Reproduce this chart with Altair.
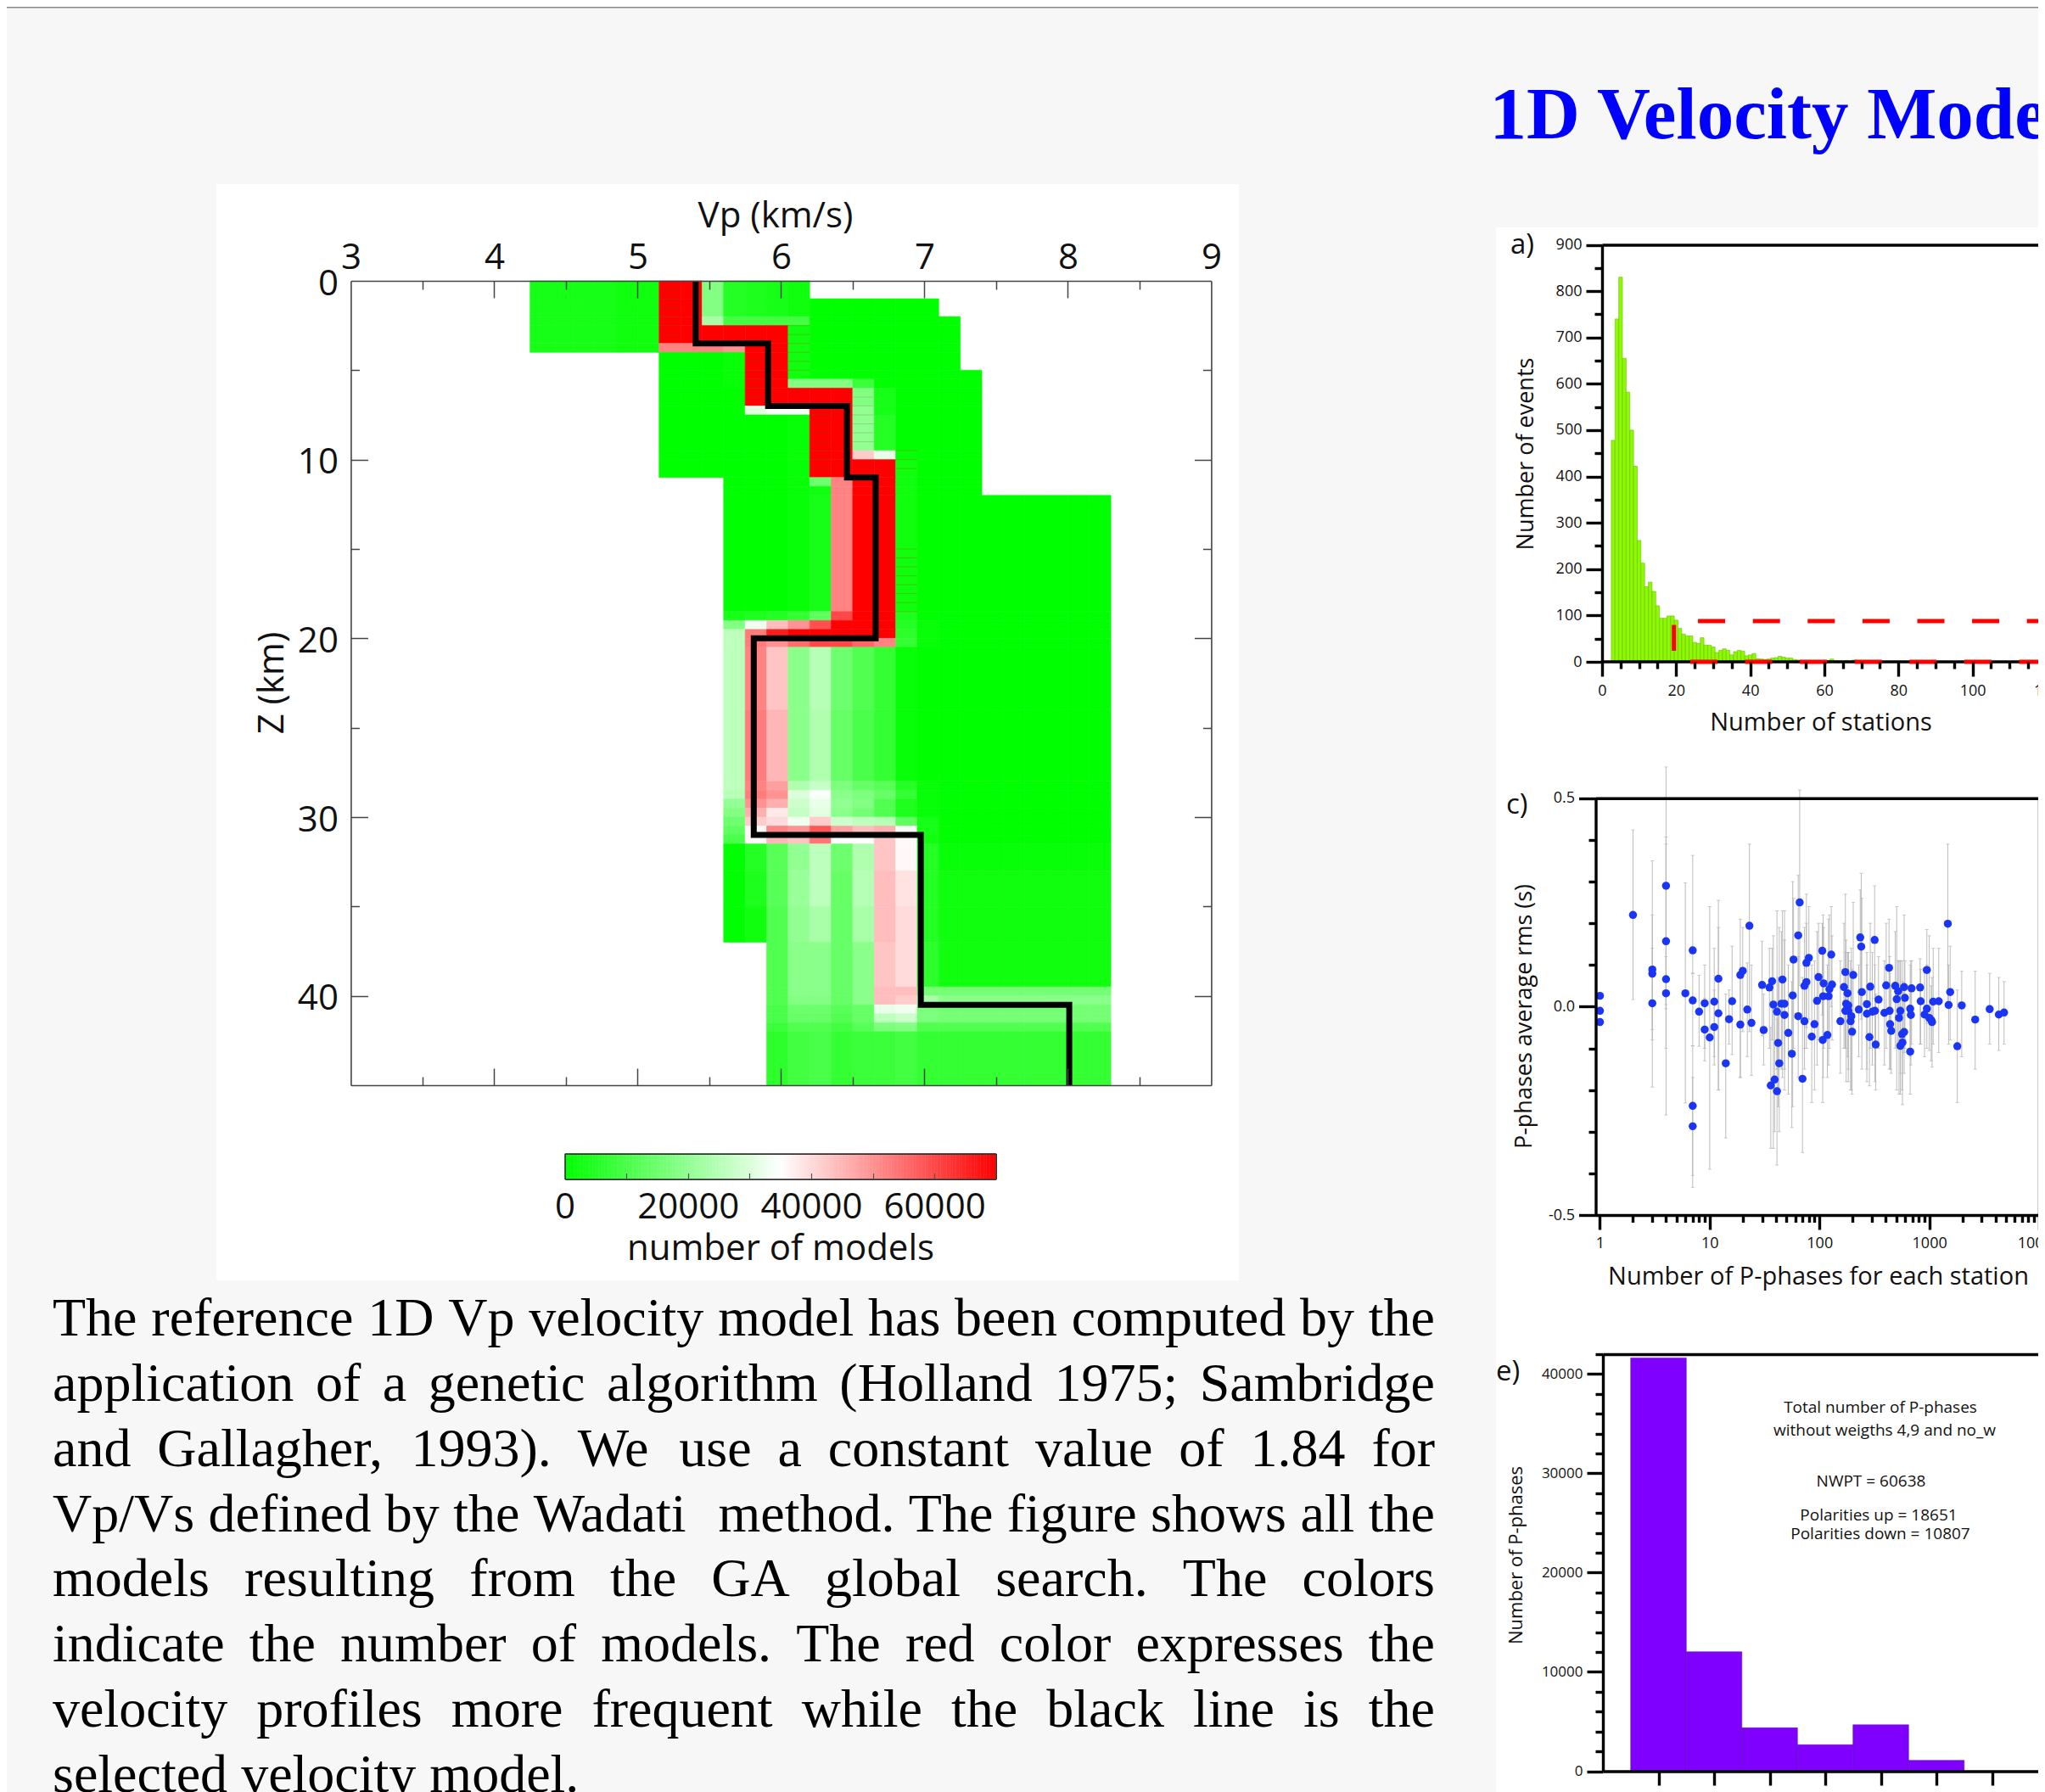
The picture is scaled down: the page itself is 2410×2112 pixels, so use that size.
import altair as alt
import pandas as pd

W, H = 2394, 2104
SANS = "Open Sans"
SERIF = "Liberation Serif"

# ---------- Vp model histogram ----------
model_bands = [
    (0, 1, 4.25, 6.2, [3000, 3000, 3000, 3000, 2000, 2000, 70000, 70000, 18000, 5000, 4000, 3000, 2000], 0),
    (1, 2, 4.25, 7.1, [3000, 3000, 3000, 3000, 2000, 2000, 70000, 70000, 18000, 5000, 4000, 3000, 2000], 0),
    (2, 2.5, 4.25, 7.25, [3000, 3000, 3000, 3000, 2000, 2000, 70000, 70000, 23000, 9000, 9000, 9000, 9000], 0),
    (2.5, 3.5, 4.25, 7.25, [3000, 3000, 3000, 3000, 2000, 2000, 70000, 70000, 70000, 70000, 70000, 70000, 2000], 0),
    (3.5, 4, 4.25, 7.25, [3000, 3000, 3000, 3000, 2000, 2000, 52000, 52000, 52000, 50000, 70000, 70000, 2000], 0),
    (4, 5, 5.15, 7.25, [0, 0, 0, 1000, 70000, 70000, 2000], 0),
    (5, 5.5, 5.15, 7.4, [0, 0, 0, 1000, 70000, 70000, 2000], 0),
    (5.5, 6, 5.15, 7.4, [0, 0, 0, 1000, 70000, 70000, 18000, 18000, 18000, 8000], 0),
    (6, 7, 5.15, 7.4, [0, 0, 0, 0, 70000, 70000, 70000, 70000, 70000, 18000, 3000], 0),
    (7, 7.5, 5.15, 7.4, [0, 0, 0, 0, 31000, 34000, 34000, 70000, 70000, 20000, 3000], 0),
    (7.5, 9.5, 5.15, 7.4, [0, 0, 0, 0, 0, 0, 1000, 70000, 70000, 20000, 5000], 0),
    (9.5, 10, 5.15, 7.4, [0, 0, 0, 0, 0, 0, 1000, 70000, 70000, 42000, 32000, 1000], 0),
    (10, 11, 5.15, 7.4, [0, 0, 0, 0, 0, 0, 1000, 70000, 70000, 70000, 70000, 2000], 0),
    (11, 11.5, 5.6, 7.4, [0, 0, 0, 1000, 15000, 52000, 70000, 70000, 2000], 0),
    (11.5, 12, 5.6, 7.4, [0, 0, 0, 1000, 2000, 52000, 70000, 70000, 2000], 0),
    (12, 18.5, 5.6, 8.3, [0, 0, 0, 1000, 3000, 52000, 70000, 70000, 2000], 0),
    (18.5, 19, 5.6, 8.3, [3000, 4000, 5000, 7000, 13000, 60000, 70000, 70000, 4000], 0),
    (19, 19.5, 5.6, 8.3, [18000, 33000, 44000, 50000, 59000, 70000, 70000, 70000, 5000, 1000], 0),
    (19.5, 20, 5.6, 8.3, [26000, 53000, 66000, 70000, 70000, 70000, 70000, 70000, 6000, 1000], 0),
    (20, 20.5, 5.6, 8.3, [26000, 53000, 50000, 55000, 60000, 60000, 56000, 52000, 7000, 1000], 0),
    (20.5, 24, 5.6, 8.3, [26000, 52000, 43000, 19000, 25000, 15000, 11000, 7000, 1000], 0),
    (24, 28, 5.6, 8.3, [26000, 53000, 45000, 19000, 24000, 14000, 10000, 7000, 1000], 0),
    (28, 28.5, 5.6, 8.3, [26000, 52000, 48000, 24000, 27000, 17000, 14000, 12000, 5000, 1000], 0),
    (28.5, 29, 5.6, 8.3, [25000, 53000, 50000, 30000, 34000, 19000, 17000, 14000, 7000, 1000], 0),
    (29, 29.5, 5.6, 8.3, [20000, 50000, 46000, 28000, 32000, 20000, 18000, 11000, 4000, 1000], 0),
    (29.5, 30, 5.6, 8.3, [18000, 46000, 38000, 27000, 31000, 19000, 16000, 11000, 4000, 1000], 0),
    (30, 30.5, 5.6, 8.3, [15000, 42000, 40000, 33000, 42000, 28000, 26000, 25000, 13000, 3000], 0),
    (30.5, 31, 5.6, 8.3, [13000, 36000, 52000, 50000, 58000, 48000, 44000, 46000, 34000, 3000], 0),
    (31, 31.5, 5.6, 8.3, [10000, 36000, 45000, 43000, 54000, 35000, 35000, 43000, 36000, 2000], 0),
    (31.5, 33, 5.6, 8.3, [0, 5000, 12000, 20000, 26000, 15000, 24000, 43000, 36000, 5000, 1000], 1000),
    (33, 35, 5.6, 8.3, [0, 4000, 12000, 21000, 26000, 14000, 25000, 44000, 39000, 5000, 2000], 2000),
    (35, 37, 5.6, 8.3, [0, 2000, 11000, 20000, 23000, 14000, 23000, 44000, 40000, 5000, 2000], 2000),
    (37, 39.5, 5.9, 8.3, [11000, 19000, 19000, 14000, 19000, 43000, 40000, 6000], 2000),
    (39.5, 40, 5.9, 8.3, [11000, 19000, 19000, 14000, 19000, 44000, 44000, 16000], 16000),
    (40, 40.5, 5.9, 8.3, [11000, 18000, 18000, 14000, 19000, 44000, 42000, 23000], 19000),
    (40.5, 41, 5.9, 8.3, [10000, 15000, 15000, 12000, 14000, 32000, 33000, 17000], 16000),
    (41, 41.5, 5.9, 8.3, [10000, 14000, 14000, 11000, 14000, 26000, 28000, 17000], 16000),
    (41.5, 42, 5.9, 8.3, [8000, 11000, 11000, 9000, 12000, 17000, 18000, 11000], 11000),
    (42, 45, 5.9, 8.3, [6000, 9000, 10000, 7000, 8000, 8000, 9000, 7000], 7000),
]
VP_STEP = 0.15
COLORBAR_STEP = 500
COLORBAR_MAX = 70000

best_vp = [5.405, 5.405, 5.91, 5.91, 6.46, 6.46, 6.66, 6.66, 5.81, 5.81, 6.975, 6.975, 8.01, 8.01]
best_z = [0, 3.5, 3.5, 7, 7, 11, 11, 20, 20, 31, 31, 40.5, 40.5, 45]

hatch_groups = [
    (5.15, 5.3, [0.5, 1, 1.5, 2, 2.5, 3], "#b03000"),
    (6.05, 6.2, [2.5, 3, 3.5, 4, 4.5, 5], "#60a000"),
    (5.75, 5.9, [4.5, 5, 5.5, 6, 6.5], "#b03000"),
    (6.2, 6.35, [7.5, 8, 8.5, 9, 9.5, 10, 10.5], "#b03000"),
    (6.8, 6.95, [9.5, 10, 10.5, 15, 15.5, 16, 16.5, 17, 17.5, 18, 18.5], "#60a000"),
    (6.5, 6.65, [6.5, 7, 7.5, 8, 8.5, 9], "#90b070"),
]

# ---------- panel a ----------
stations_bins = list(range(3, 71))
events_count = [478, 740, 830, 655, 582, 500, 422, 262, 213, 162, 172, 152, 121, 94, 94, 99, 99, 90,
                72, 60, 56, 56, 42, 40, 52, 36, 36, 32, 20, 25, 28, 25, 15, 22, 25, 23, 13, 15, 18,
                7, 6, 5, 6, 8, 9, 12, 10, 8, 8, 5, 4, 3, 3, 2, 2, 2, 2, 3, 3, 6, 3, 2, 2, 3, 2, 4, 1, 2]

# ---------- panel c ----------
phases_n = [1, 1, 1, 2, 3, 3, 3, 4, 4, 4,
            4, 6, 7, 7, 7, 7, 8, 9, 9, 10,
            11, 11, 12, 12, 14, 15, 16, 19, 19, 20,
            22, 23, 24, 30, 31, 35, 37, 38, 36, 39,
            41, 41, 42, 43, 46, 45, 48, 48, 52, 56,
            57, 58, 64, 64, 66, 70, 73, 73, 76, 76,
            80, 85, 90, 95, 98, 106, 107, 109, 108, 118,
            121, 123, 128, 130, 155, 167, 172, 175, 172, 180,
            183, 183, 192, 195, 198, 203, 228, 235, 240, 243,
            270, 270, 285, 290, 303, 320, 318, 325, 345, 390,
            405, 430, 435, 440, 450, 490, 505, 520, 530, 545,
            545, 570, 565, 590, 600, 590, 670, 680, 670, 690,
            825, 835, 905, 950, 950, 1000, 1040, 1060, 1085, 1220,
            1475, 1500, 1550, 1800, 1975, 2620, 3550, 4300, 4800]
phases_rms = [.026, -.01, -.037, .22, .089, .079, .008, .29, .157, .066,
              .032, .032, .135, .015, -.238, -.287, -.012, .008, -.055, -.074,
              .012, -.049, .067, -.016, -.136, -.03, .013, .076, -.043, .086,
              -.007, .194, -.039, .052, -.056, .046, .061, .005, -.189, -.175,
              -.203, -.012, -.087, -.136, .065, .007, .007, -.02, -.063, -.113,
              .027, .113, .171, -.023, .25, -.173, .05, -.035, .105, .059,
              .117, -.072, -.042, .014, .071, .134, -.08, .056, .025, -.068,
              .025, .042, .125, .053, -.035, .047, .083, .007, -.01, .032,
              .003, -.01, -.035, -.023, -.06, .076, -.007, .166, .144, .035,
              .006, -.017, -.073, .048, -.012, -.01, .16, -.091, .017, -.015,
              .051, .093, -.01, -.042, -.058, .05, .018, .037, -.027, -.01,
              -.094, -.086, -.066, .047, .021, -.061, -.005, -.02, -.108, .044,
              .046, .013, -.019, .088, -.005, -.027, -.032, -.037, .012, .013,
              .199, .004, .035, -.095, .003, -.031, -.006, -.019, -.014]
phases_lo = [.026, -.01, -.037, .017, -.08, -.193, -.055, .005, -.1, -.26,
             -.005, -.231, .08, -.094, -.405, -.434, -.095, -.1, -.13, -.39,
             -.12, -.14, -.2, -.2, -.315, -.09, -.115, -.17, -.17, -.06,
             -.12, -.06, -.165, -.07, -.14, -.1, -.08, -.34, -.34, -.3,
             -.38, -.15, -.24, -.3, -.17, -.15, -.15, -.2, -.21, -.29,
             -.24, -.1, -.02, -.17, .05, -.35, -.1, -.15, -.05, -.1,
             -.03, -.23, -.2, -.14, -.08, -.02, -.23, -.1, -.17, -.17,
             -.14, -.1, 0, -.08, -.16, -.1, -.1, -.18, -.1, -.12,
             -.15, -.18, -.2, -.2, -.21, -.07, -.12, 0, -.03, -.15,
             -.18, -.15, -.19, -.1, -.14, -.18, .02, -.2, -.1, -.14,
             -.1, -.06, -.15, -.15, -.16, -.1, -.2, -.1, -.21, -.16,
             -.21, -.235, -.2, -.11, -.1, -.16, -.12, -.14, -.21, -.09,
             -.09, -.09, -.12, -.04, -.1, -.105, -.13, -.145, -.09, -.11,
             0, -.09, -.08, -.23, -.12, -.15, -.09, -.105, -.09]
phases_hi = [.026, -.01, -.037, .424, .35, .22, .14, .575, .407, .39,
             .12, .297, .363, .08, -.17, -.094, .075, .1, .02, .24,
             .14, .04, .255, .19, .03, .04, .145, .21, .08, .19,
             .105, .39, .1, .157, .03, .14, .14, .17, -.05, -.02,
             -.03, .23, .07, .19, .23, .18, .23, .16, .1, .06,
             .3, .26, .315, .12, .52, .07, .19, .1, .27, .2,
             .24, .1, .11, .18, .2, .2, .06, .19, .22, .1,
             .21, .22, .24, .17, .11, .2, .27, .16, .13, .13,
             .13, .13, .11, .14, .09, .25, .1, .28, .32, .26,
             .13, .1, .04, .2, .13, .1, .29, .03, .12, .11,
             .2, .21, .12, .08, .05, .18, .24, .11, .11, .11,
             .11, .06, .11, .22, .11, .04, .1, .11, .03, .11,
             .115, .09, .09, .185, .1, .17, .05, .07, .14, .14,
             .39, .1, .145, .04, .085, .085, .08, .07, .06]

# ---------- panel e ----------
weight_class = [0, 1, 2, 3, 4, 5]
weight_counts = [41625, 12020, 4370, 2660, 4670, 1090]

# ---------- text ----------
paragraph_lines = [
    "The reference 1D Vp velocity model has been computed by the",
    "application of a genetic algorithm (Holland 1975; Sambridge",
    "and Gallagher, 1993). We use a constant value of 1.84 for",
    "Vp/Vs defined by the Wadati  method. The figure shows all the",
    "models resulting from the GA global search. The colors",
    "indicate the number of models. The red color expresses the",
    "velocity profiles more frequent while the black line is the",
    "selected velocity model.",
]
TIMES = dict(a=444, b=500, c=444, d=500, e=444, f=333, g=500, h=500, i=278, j=278, k=500, l=278, m=778,
             n=500, o=500, p=500, q=500, r=333, s=389, t=278, u=500, v=500, w=722, x=500, y=500, z=444,
             A=722, B=667, C=667, D=722, E=611, F=556, G=722, H=722, I=333, J=389, K=722, L=611, M=889,
             N=722, O=722, P=556, Q=722, R=667, S=556, T=611, U=722, V=722, W=944, X=722, Y=722, Z=611)
TIMES.update({c: 500 for c in "0123456789"})
TIMES.update({".": 250, ",": 250, ";": 278, "(": 333, ")": 333, "/": 278})
PARA_SIZE, PARA_WIDTH = 64, 1629


def word_width(word):
    return sum(TIMES[c] for c in word) * PARA_SIZE / 1000


def paragraph_words():
    rows = []
    for number, line in enumerate(paragraph_lines, 1):
        words = line.replace("  ", " ").split(" ")
        gaps = line.count(" ")
        space = 0.25 * PARA_SIZE
        natural = sum(word_width(w) for w in words) + gaps * space
        if number < len(paragraph_lines):
            space += (PARA_WIDTH - natural) / gaps
        pos = 0.0
        for i, w in enumerate(words):
            rows.append({"line": number, "pos": pos, "word": w})
            pos += word_width(w) + space * (2 if w == "Wadati" else 1)
    return pd.DataFrame(rows)


# ---------- helpers ----------
def px(v):
    return v - 8


def rng(a, b):
    return [px(a), px(b)]


def text(s, x, y, size, font=SANS, color="#111", angle=0, align="left", weight="normal"):
    return alt.Chart(pd.DataFrame({"t": [s]})).mark_text(
        font=font, fontSize=size, color=color, angle=angle, align=align,
        baseline="alphabetic", fontWeight=weight
    ).encode(x=alt.value(px(x)), y=alt.value(px(y)), text="t:N")


def panel(x0, y0, x1, y1, color="#ffffff"):
    return alt.Chart(pd.DataFrame({"a": [0]})).mark_rect(color=color, strokeWidth=0).encode(
        x=alt.value(px(x0)), x2=alt.value(px(x1)), y=alt.value(px(y0)), y2=alt.value(px(y1)))


def axis(channel, domain, range_, orient, pos, values=None, tick=0, width=1.5, color="#000",
         labels=False, line=False, size=18, pad=4, fmt="d", stype="linear", labelcolor="#111", expr=None, shift=0):
    p = pos - 8
    offset = {"bottom": p - H, "top": -p, "left": -p, "right": p - W}[orient]
    cfg = dict(orient=orient, offset=offset, title=None, grid=False, zindex=1,
               domain=line, domainColor=color, domainWidth=width,
               ticks=tick > 0, labels=labels, labelOverlap=False, labelFlush=False,
               labelFont=SANS, labelFontSize=size, labelPadding=pad, labelColor=labelcolor, labelOffset=shift)
    if tick > 0:
        cfg.update(tickSize=tick, tickWidth=width, tickColor=color)
    cfg["values"] = values if values is not None else []
    if labels:
        cfg["format"] = fmt
    if expr:
        cfg["labelExpr"] = expr
    ax = alt.Axis(**cfg)
    sc = alt.Scale(domain=domain, range=range_, nice=False, zero=False, type=stype)
    data = pd.DataFrame({"v": [domain[0]]})
    if channel == "x":
        enc = dict(x=alt.X("v:Q", scale=sc, axis=ax))
    else:
        enc = dict(y=alt.Y("v:Q", scale=sc, axis=ax))
    return alt.Chart(data).mark_point(opacity=0).encode(**enc)


layers = []

# page furniture
layers += [panel(8, 8, 2410, 9.5, "#888888"), panel(255, 217, 1460, 1509), panel(1763, 268, 2440, 2140)]
layers.append(text("1D Velocity Mode", 1755.5, 163, 87, font=SERIF, color="#0000ff", weight="bold"))

# ---------- main model panel ----------
VP_DOM, VP_RNG = [3, 9], rng(413.4, 1427.4)
Z_DOM, Z_RNG = [0, 45], rng(331, 1279)
vp_scale = alt.Scale(domain=VP_DOM, range=VP_RNG, nice=False, zero=False)
z_scale = alt.Scale(domain=Z_DOM, range=Z_RNG, nice=False, zero=False)
color_scale = alt.Scale(domain=[0, 35000, 70000], range=["#00ff00", "#ffffff", "#ff0000"], interpolate="rgb")

cells = []
for z0, z1, left, right, values, rest in model_bands:
    n = int(round((right - left) / VP_STEP))
    vals = list(values) + [rest] * (n - len(values))
    for j, v in enumerate(vals):
        cells.append({"vp0": left + j * VP_STEP, "vp1": left + (j + 1) * VP_STEP, "z0": z0, "z1": z1, "models": v})
cells = pd.DataFrame(cells)

layers.append(
    alt.Chart(cells).mark_rect(strokeWidth=0.6).encode(
        x=alt.X("vp0:Q", scale=vp_scale, axis=None), x2="vp1:Q",
        y=alt.Y("z0:Q", scale=z_scale, axis=None), y2="z1:Q",
        color=alt.Color("models:Q", scale=color_scale, legend=None),
        stroke=alt.Stroke("models:Q", scale=color_scale, legend=None),
    )
)
hatch_rows = [{"vp0": a, "vp1": b, "z": z, "c": c} for a, b, zs, c in hatch_groups for z in zs]
layers.append(
    alt.Chart(pd.DataFrame(hatch_rows)).mark_rule(strokeWidth=1, opacity=0.55).encode(
        x=alt.X("vp0:Q", scale=vp_scale, axis=None), x2="vp1:Q",
        y=alt.Y("z:Q", scale=z_scale, axis=None),
        color=alt.Color("c:N", scale=None),
    )
)
layers.append(
    alt.Chart(pd.DataFrame({"vp": best_vp, "z": best_z, "o": list(range(len(best_z)))})).mark_line(
        color="#000", strokeWidth=7, strokeJoin="miter", strokeCap="butt", clip=False
    ).encode(
        x=alt.X("vp:Q", scale=vp_scale, axis=None),
        y=alt.Y("z:Q", scale=z_scale, axis=None),
        order="o:Q",
    )
)
G = "#444444"
layers += [
    axis("x", VP_DOM, VP_RNG, "top", 331, [3, 4, 5, 6, 7, 8, 9], labels=True, line=True, size=42, pad=6, width=1.6, color=G),
    axis("x", VP_DOM, VP_RNG, "bottom", 1279, [], line=True, width=1.6, color=G),
    axis("y", Z_DOM, Z_RNG, "left", 413.4, [0, 10, 20, 30, 40], labels=True, line=True, size=42, pad=15, width=1.6, color=G, shift=3),
    axis("y", Z_DOM, Z_RNG, "right", 1427.4, [], line=True, width=1.6, color=G),
    # inward ticks: an axis of the opposite side laid on the frame
    axis("x", VP_DOM, VP_RNG, "bottom", 331, [4, 5, 6, 7, 8], tick=20, color=G),
    axis("x", VP_DOM, VP_RNG, "bottom", 331, [3.5, 4.5, 5.5, 6.5, 7.5, 8.5], tick=10, color=G),
    axis("x", VP_DOM, VP_RNG, "top", 1279, [4, 5, 6, 7, 8], tick=20, color=G),
    axis("x", VP_DOM, VP_RNG, "top", 1279, [3.5, 4.5, 5.5, 6.5, 7.5, 8.5], tick=10, color=G),
    axis("y", Z_DOM, Z_RNG, "right", 413.4, [10, 20, 30, 40], tick=20, color=G),
    axis("y", Z_DOM, Z_RNG, "right", 413.4, [5, 15, 25, 35], tick=10, color=G),
    axis("y", Z_DOM, Z_RNG, "left", 1427.4, [10, 20, 30, 40], tick=20, color=G),
    axis("y", Z_DOM, Z_RNG, "left", 1427.4, [5, 15, 25, 35], tick=10, color=G),
]
layers.append(text("Vp (km/s)", 914, 268, 42, align="center"))
layers.append(text("Z (km)", 334, 805, 42, angle=270, align="center"))

# ---------- colour bar ----------
CB_DOM, CB_RNG = [0, COLORBAR_MAX], rng(665.6, 1173.7)
cb_y_dom, cb_y_rng = [0, 1], rng(1389.6, 1359.6)
cb_scale = alt.Scale(domain=CB_DOM, range=CB_RNG, nice=False, zero=False)
cb_values = list(range(0, COLORBAR_MAX, COLORBAR_STEP))
cb_df = pd.DataFrame({"a": cb_values, "b": [v + COLORBAR_STEP for v in cb_values], "mid": [v + COLORBAR_STEP / 2 for v in cb_values]})
layers.append(
    alt.Chart(cb_df).mark_rect(strokeWidth=0.5).encode(
        x=alt.X("a:Q", scale=cb_scale, axis=None), x2="b:Q",
        y=alt.value(px(1359.6)), y2=alt.value(px(1389.6)),
        color=alt.Color("mid:Q", scale=color_scale, legend=None),
        stroke=alt.Stroke("mid:Q", scale=color_scale, legend=None),
    )
)
layers += [
    axis("x", CB_DOM, CB_RNG, "bottom", 1389.6, [0, 20000, 40000, 60000], labels=True, line=True, size=42, pad=13, width=1.6, color="#333"),
    axis("x", CB_DOM, CB_RNG, "top", 1359.6, [], line=True, width=1.6, color="#333"),
    axis("x", CB_DOM, CB_RNG, "top", 1389.6, [10000, 20000, 30000, 40000, 50000, 60000], tick=7, width=1.2, color="#555"),
    axis("y", cb_y_dom, cb_y_rng, "left", 665.6, [], line=True, width=1.6, color="#333"),
    axis("y", cb_y_dom, cb_y_rng, "right", 1173.7, [], line=True, width=1.6, color="#333"),
    text("number of models", 920, 1484.5, 42, align="center"),
]

# ---------- paragraph ----------
layers.append(
    alt.Chart(paragraph_words()).mark_text(font=SERIF, fontSize=PARA_SIZE, color="#000", align="left", baseline="alphabetic").encode(
        x=alt.X("pos:Q", scale=alt.Scale(domain=[0, PARA_WIDTH], range=rng(62, 62 + PARA_WIDTH), nice=False, zero=False), axis=None),
        y=alt.Y("line:Q", scale=alt.Scale(domain=[1, 8], range=rng(1574, 2112), nice=False, zero=False), axis=None),
        text="word:N",
    )
)

# ---------- panel a ----------
A_X_DOM, A_X_RNG = [0, 125], rng(1888, 1888 + 125 * 4.366)
A_Y_DOM, A_Y_RNG = [0, 900], rng(780, 288.5)
ax_scale = alt.Scale(domain=A_X_DOM, range=A_X_RNG, nice=False, zero=False)
ay_scale = alt.Scale(domain=A_Y_DOM, range=A_Y_RNG, nice=False, zero=False)
a_bars = pd.DataFrame({"s0": [s - 0.5 for s in stations_bins], "s1": [s + 0.5 for s in stations_bins], "n": events_count})
layers.append(
    alt.Chart(a_bars).mark_rect(color="#8cfa00", stroke="#70b818", strokeWidth=0.6).encode(
        x=alt.X("s0:Q", scale=ax_scale, axis=None), x2="s1:Q",
        y=alt.Y("n:Q", scale=ay_scale, axis=None), y2=alt.Y2(datum=0),
    )
)
layers.append(
    alt.Chart(pd.DataFrame({"a": [0], "b": [125], "y": [0]})).mark_rule(color="#000", strokeWidth=3.4).encode(
        x=alt.X("a:Q", scale=ax_scale, axis=None), x2="b:Q", y=alt.Y("y:Q", scale=ay_scale, axis=None))
)
AW = 3.4
layers += [
    axis("y", A_Y_DOM, A_Y_RNG, "left", 1888, list(range(0, 901, 100)), tick=19, width=AW, line=True, labels=True, size=18, pad=5),
    axis("y", A_Y_DOM, A_Y_RNG, "left", 1888, list(range(50, 900, 100)), tick=9, width=AW),
    axis("x", A_X_DOM, A_X_RNG, "top", 288.5, [], width=AW, line=True),
    axis("x", A_X_DOM, A_X_RNG, "bottom", 780, list(range(0, 121, 20)), tick=17, width=AW, labels=True, size=18, pad=8),
    axis("x", A_X_DOM, A_X_RNG, "bottom", 780, [v for v in range(5, 125, 5) if v % 20], tick=8, width=AW),
]
red_lines = [
    (25.9, 125, 88),
    (23.8, 125, 0),
]
for s0, s1, lvl in red_lines:
    layers.append(
        alt.Chart(pd.DataFrame({"a": [s0], "b": [s1], "y": [lvl]})).mark_rule(
            color="#ff0000", strokeWidth=5, strokeDash=[32, 32.6]
        ).encode(x=alt.X("a:Q", scale=ax_scale, axis=None), x2="b:Q", y=alt.Y("y:Q", scale=ay_scale, axis=None))
    )
layers.append(
    alt.Chart(pd.DataFrame({"x": [19.4], "a": [79.6], "b": [23.8]})).mark_rule(color="#ff0000", strokeWidth=5).encode(
        x=alt.X("x:Q", scale=ax_scale, axis=None), y=alt.Y("a:Q", scale=ay_scale, axis=None), y2="b:Q")
)
layers += [
    text("a)", 1780, 299, 33),
    text("Number of events", 1807, 535, 27, angle=270, align="center"),
    text("Number of stations", 2146, 861, 29, align="center"),
]

# ---------- panel c ----------
C_X_DOM, C_X_RNG = [0.915, 10000], rng(1880.5, 2403)
C_Y_DOM, C_Y_RNG = [-0.5, 0.5], rng(1432, 940.8)
cx_scale = alt.Scale(type="log", domain=C_X_DOM, range=C_X_RNG, nice=False)
cy_scale = alt.Scale(domain=C_Y_DOM, range=C_Y_RNG, nice=False, zero=False)
c_df = pd.DataFrame({"n": phases_n, "rms": phases_rms, "lo": phases_lo, "hi": phases_hi})
c_err = c_df[c_df.n > 1]
layers.append(
    alt.Chart(c_err).mark_rule(color="#b4b4b4", strokeWidth=0.9, clip=False).encode(
        x=alt.X("n:Q", scale=cx_scale, axis=None),
        y=alt.Y("lo:Q", scale=cy_scale, axis=None), y2="hi:Q")
)
for end in ["lo", "hi"]:
    layers.append(
        alt.Chart(c_err).mark_tick(color="#b4b4b4", orient="horizontal", size=4, thickness=1).encode(
            x=alt.X("n:Q", scale=cx_scale, axis=None),
            y=alt.Y(f"{end}:Q", scale=cy_scale, axis=None))
    )
layers.append(
    alt.Chart(c_df).mark_circle(color="#1a35f5", opacity=1, size=90).encode(
        x=alt.X("n:Q", scale=cx_scale, axis=None),
        y=alt.Y("rms:Q", scale=cy_scale, axis=None))
)
minor_log = [m * d for d in (1, 10, 100, 1000) for m in range(2, 10)]
layers += [
    axis("y", C_Y_DOM, C_Y_RNG, "left", 1880.5, [-0.5, 0.0, 0.5], tick=20, width=AW, line=True, labels=True, size=18, pad=5, fmt=".1f",
         expr="datum.value < 0 ? '-0.5' : format(datum.value, '.1f')"),
    axis("y", C_Y_DOM, C_Y_RNG, "left", 1880.5, [-0.4, -0.3, -0.2, -0.1, 0.1, 0.2, 0.3, 0.4], tick=8.5, width=AW),
    axis("y", C_Y_DOM, C_Y_RNG, "right", 2403, [], width=AW, line=True),
    axis("x", C_X_DOM, C_X_RNG, "top", 940.8, [], width=AW, line=True, stype="log"),
    axis("x", C_X_DOM, C_X_RNG, "bottom", 1432, [1, 10, 100, 1000, 10000], tick=17, width=AW, line=True, labels=True, size=18, pad=7, stype="log"),
    axis("x", C_X_DOM, C_X_RNG, "bottom", 1432, minor_log, tick=8.5, width=AW, stype="log"),
    text("c)", 1775, 959, 33),
    text("P-phases average rms (s)", 1805, 1198, 27, angle=270, align="center"),
    text("Number of P-phases for each station", 2143, 1514, 29, align="center"),
]

# ---------- panel e ----------
E_X_DOM, E_X_RNG = [-1, 8], rng(1889, 1889 + 9 * 65.5)
E_Y_DOM, E_Y_RNG = [0, 42000], rng(2087.5, 1596)
ex_scale = alt.Scale(domain=E_X_DOM, range=E_X_RNG, nice=False, zero=False)
ey_scale = alt.Scale(domain=E_Y_DOM, range=E_Y_RNG, nice=False, zero=False)
e_df = pd.DataFrame({"a": [w - 0.5 for w in weight_class], "b": [w + 0.5 for w in weight_class], "n": weight_counts})
layers.append(
    alt.Chart(e_df).mark_rect(color="#8000ff", stroke="#5a10a8", strokeWidth=0.6).encode(
        x=alt.X("a:Q", scale=ex_scale, axis=None), x2="b:Q",
        y=alt.Y("n:Q", scale=ey_scale, axis=None), y2=alt.Y2(datum=0))
)
layers += [
    axis("y", E_Y_DOM, E_Y_RNG, "left", 1889, [0, 10000, 20000, 30000, 40000], tick=19, width=AW, line=True, labels=True, size=17, pad=5),
    axis("y", E_Y_DOM, E_Y_RNG, "left", 1889, [v for v in range(2000, 42001, 2000) if v % 10000], tick=9, width=AW),
    axis("x", E_X_DOM, E_X_RNG, "top", 1596, [], width=AW, line=True),
    axis("x", E_X_DOM, E_X_RNG, "bottom", 2087.5, [0, 1, 2, 3, 4, 5, 6, 7], tick=16.5, width=AW, line=True, labels=True, size=18, pad=6),
    text("e)", 1763, 1627, 33),
    text("Number of P-phases", 1794, 1833, 22, angle=270, align="center"),
    text("Total number of P-phases", 2216, 1665, 19, align="center"),
    text("without weigths 4,9 and no_w", 2221, 1691.7, 19, align="center"),
    text("NWPT = 60638", 2205, 1751.5, 19, align="center"),
    text("Polarities up = 18651", 2214, 1792, 19, align="center"),
    text("Polarities down = 10807", 2216, 1813.7, 19, align="center"),
]

chart = alt.layer(*layers).resolve_scale(x="independent", y="independent", color="independent", stroke="independent").properties(
    width=W, height=H, padding=0, autosize=alt.AutoSizeParams(type="none"), background="#f7f7f7"
).configure_view(stroke=None)

chart.save("out.html", embed_options={"renderer": "svg", "actions": False})
